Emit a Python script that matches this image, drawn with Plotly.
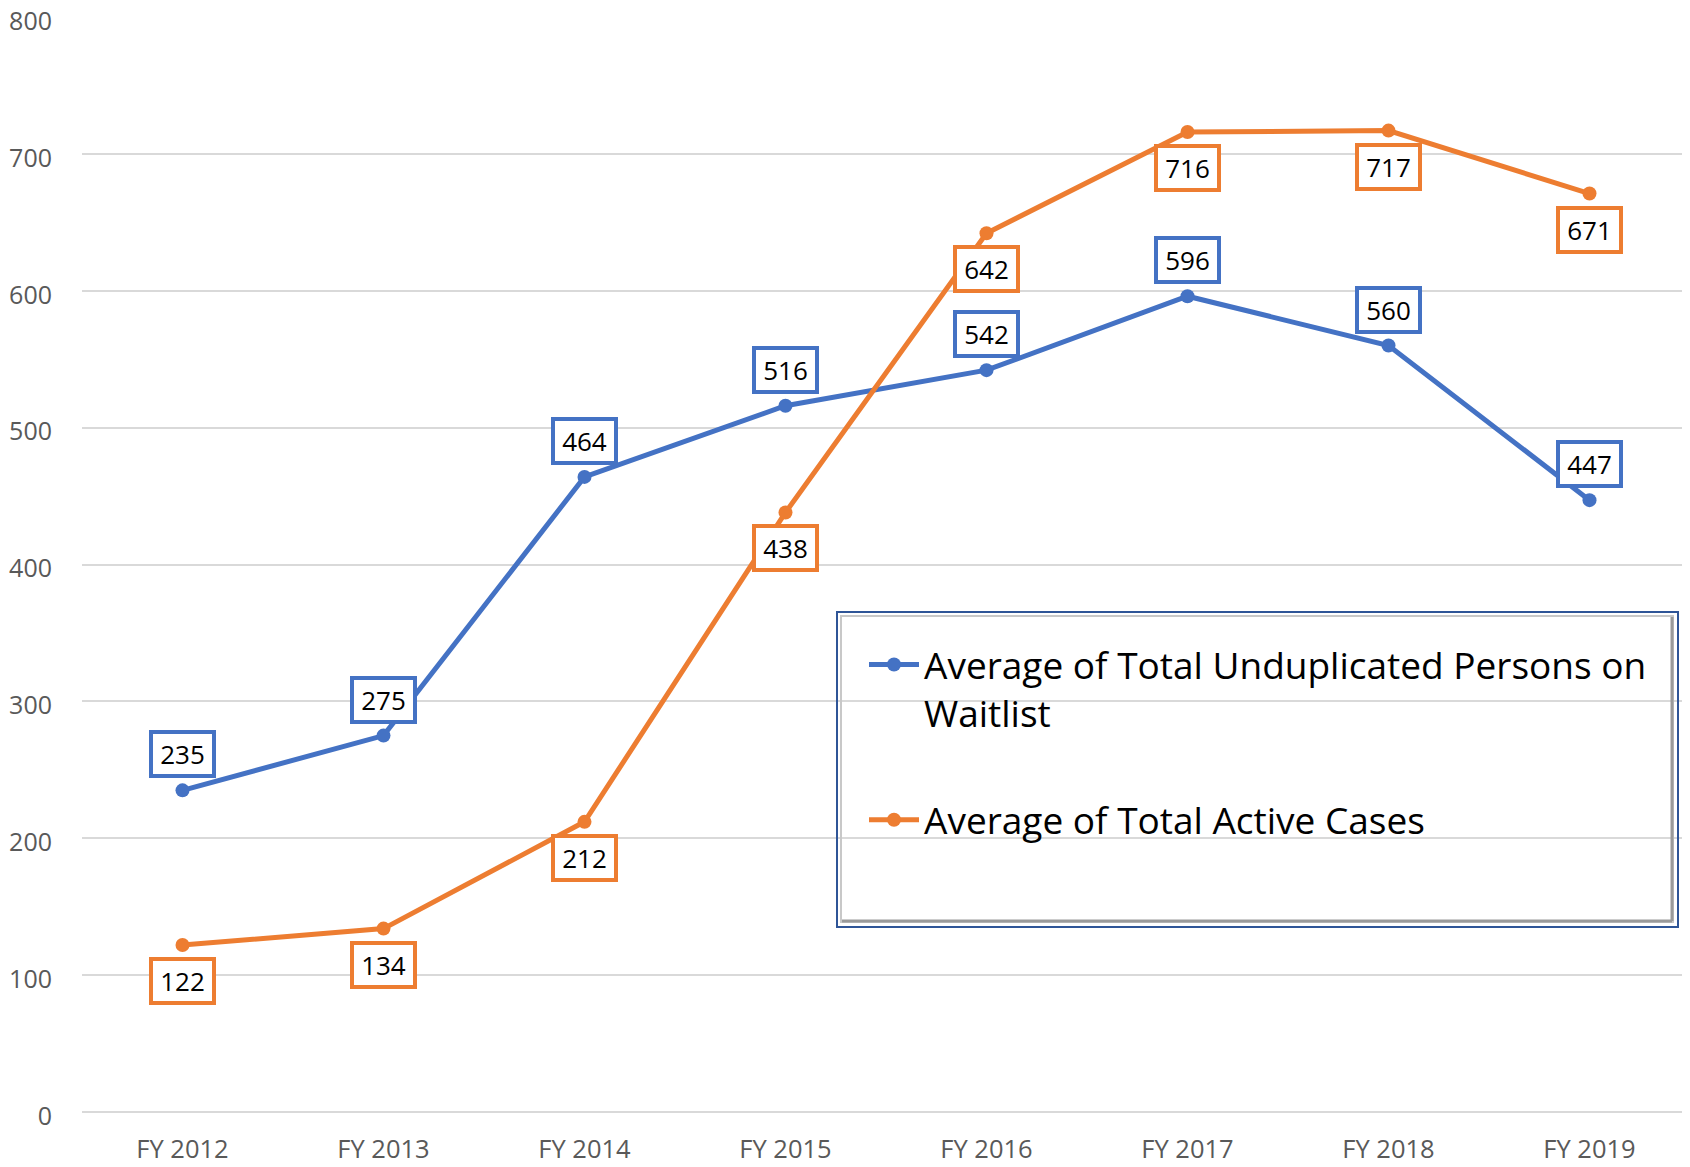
import plotly.graph_objects as go

categories = ["FY 2012", "FY 2013", "FY 2014", "FY 2015", "FY 2016", "FY 2017", "FY 2018", "FY 2019"]
waitlist = [235, 275, 464, 516, 542, 596, 560, 447]
active = [122, 134, 212, 438, 642, 716, 717, 671]
y_ticks = [0, 100, 200, 300, 400, 500, 600, 700, 800]

BLUE = "#4472C4"
ORANGE = "#ED7D31"
FONT = "Open Sans"

# page is rendered with the browser's default 8px body margin
OFF = 8
PAGE_W, PAGE_H = 1690, 1167
W, H = PAGE_W - OFF, PAGE_H - OFF
# plot area in page pixels: x 82..1690, y 17..1112
L, R, T, B = 82 - OFF, 0, 17 - OFF, PAGE_H - 1112
PW, PH = W - L - R, H - T - B


def px(x):  # page pixel -> paper
    return (x - OFF - L) / PW


def py(y):  # page pixel -> paper
    return (H - B - (y - OFF)) / PH


fig = go.Figure()
fig.add_trace(go.Scatter(
    x=categories, y=waitlist, mode="lines+markers",
    name="Average of Total Unduplicated Persons on<br>Waitlist",
    line=dict(color=BLUE, width=5), marker=dict(size=14, color=BLUE),
    legendgroup="a",
))
fig.add_trace(go.Scatter(
    x=categories, y=active, mode="lines+markers",
    name="Average of Total Active Cases",
    line=dict(color=ORANGE, width=5), marker=dict(size=14, color=ORANGE),
    legendgroup="b",
))

annotations = []
for series, color, shift in [(waitlist, BLUE, 36), (active, ORANGE, -36)]:
    for c, v in zip(categories, series):
        annotations.append(dict(
            x=c, y=v, xref="x", yref="y", text=str(v), showarrow=False,
            yshift=shift, font=dict(family=FONT, size=26, color="#000000"),
            bgcolor="white", bordercolor=color, borderwidth=4, borderpad=0,
            width=59, height=40, align="center", valign="middle",
        ))

# legend frame (page pixels)
x0, x1, y0, y1 = 837, 1678, 612, 927
shapes = [
    dict(type="rect", xref="paper", yref="paper", x0=px(x0), x1=px(x1), y0=py(y1), y1=py(y0),
         line=dict(color="#2F5597", width=2), fillcolor="rgba(0,0,0,0)", layer="above"),
    dict(type="rect", xref="paper", yref="paper", x0=px(x0 + 4), x1=px(x1 - 5), y0=py(y1 - 5), y1=py(y0 + 4),
         line=dict(color="#C8C8C8", width=2), fillcolor="rgba(0,0,0,0)", layer="above"),
    dict(type="line", xref="paper", yref="paper", x0=px(x1 - 6), x1=px(x1 - 6), y0=py(y1 - 6), y1=py(y0 + 5),
         line=dict(color="#9A9A9A", width=3), layer="above"),
    dict(type="line", xref="paper", yref="paper", x0=px(x0 + 5), x1=px(x1 - 6), y0=py(y1 - 6), y1=py(y1 - 6),
         line=dict(color="#9A9A9A", width=3), layer="above"),
]

fig.update_layout(
    width=W, height=H,
    margin=dict(l=L, r=R, t=T, b=B, pad=0, autoexpand=False),
    paper_bgcolor="white", plot_bgcolor="white",
    font=dict(family=FONT, color="#595959"),
    showlegend=True,
    legend=dict(
        x=px(864), y=py(634), xanchor="left", yanchor="top",
        bgcolor="rgba(0,0,0,0)", borderwidth=0,
        font=dict(family=FONT, size=37, color="#000000"),
        valign="top", itemwidth=50, tracegroupgap=56,
        traceorder="grouped",
    ),
    xaxis=dict(
        type="category", range=[-0.5, 7.5], showgrid=False, zeroline=False,
        showline=False, ticks="", tickfont=dict(family=FONT, size=25.5, color="#595959"),
        ticklabelstandoff=19, fixedrange=True, automargin=False,
    ),
    yaxis=dict(
        range=[0, 800], tickvals=y_ticks, showgrid=True, gridcolor="#D9D9D9", gridwidth=2,
        zeroline=True, zerolinecolor="#D9D9D9", zerolinewidth=2, showline=False, ticks="",
        tickfont=dict(family=FONT, size=25, color="#595959"), ticklabelstandoff=29,
        ticklabelshift=4, ticklabeloverflow="allow", automargin=False,
    ),
    annotations=annotations,
    shapes=shapes,
)

fig.write_html("out.html")
